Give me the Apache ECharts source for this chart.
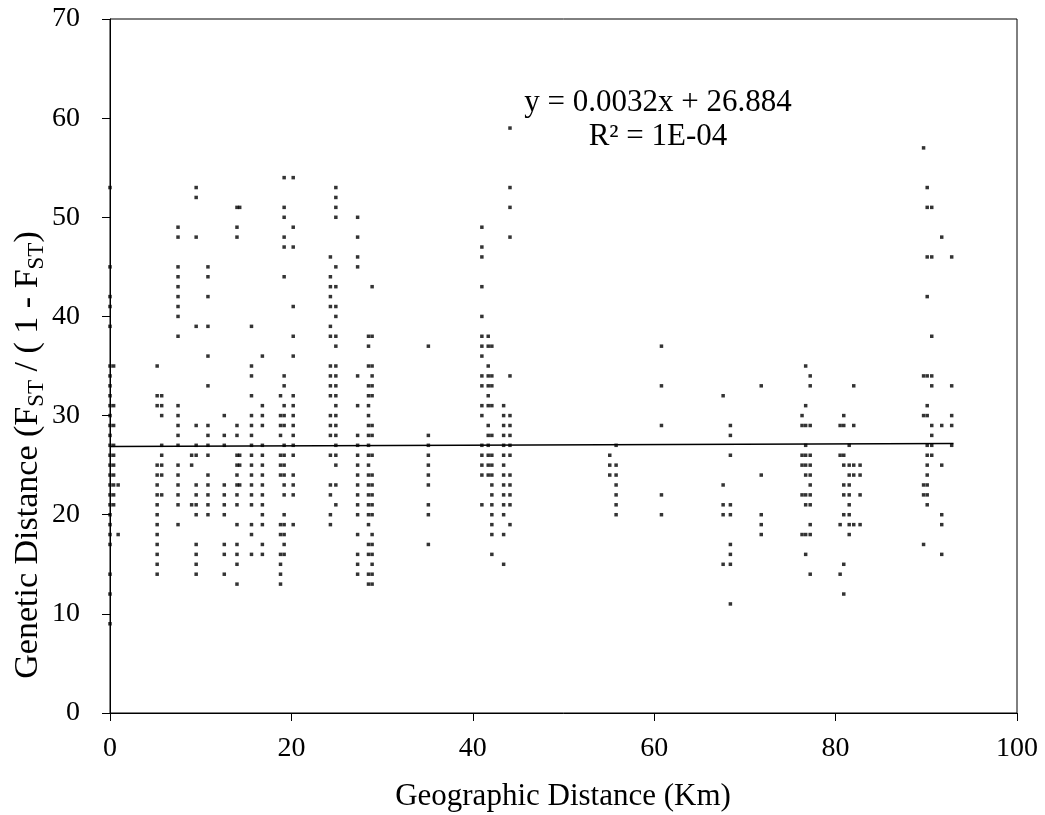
<!DOCTYPE html>
<html>
<head>
<meta charset="utf-8">
<script src="https://cdn.jsdelivr.net/npm/echarts@6/dist/echarts.min.js"></script>
<style>
html,body{margin:0;padding:0;background:#fff;}
#chart{width:1045px;height:815px;}
</style>
</head>
<body>
<div id="chart"></div>
<script>
// Column x positions (Km) and the genetic distances plotted at each
const colX = [0, 0.4, 0.9, 5.2, 5.7, 7.5, 9.0, 9.5, 10.8, 12.6, 14.0, 14.3, 15.6, 16.8, 18.8, 19.2, 20.2,
  24.3, 24.9, 27.3, 28.5, 28.9, 35.1, 41.0, 41.7, 42.1, 43.4, 44.1, 55.1, 55.8, 60.8, 67.6, 68.4, 71.8,
  76.3, 76.7, 77.2, 80.5, 80.9, 81.5, 82.0, 82.7, 89.7, 90.1, 90.6, 91.7, 92.8];
const colY = [
  [53,45,42,41,39,35,34,33,32,31,30,29,28,27,26,25,24,23,22,21,20,19,18,17,14,12,9],
  [35,31,29,27,26,25,24,23,22,21],
  [23,18],
  [35,32,31,25,24,23,22,21,20,19,18,17,16,15,14],
  [32,31,30,27,26,25,24,22],
  [49,48,45,44,43,42,41,40,38,31,30,29,28,27,25,24,23,22,21,19],
  [26,25,21],
  [53,52,48,39,29,27,26,23,22,21,20,17,16,15,14],
  [45,44,42,39,36,33,29,28,27,26,24,23,22,21,20],
  [30,28,27,23,22,21,20,17,16,14],
  [51,49,48,29,28,26,25,24,23,22,21,19,17,16,15,13],
  [51,26,25,23],
  [39,35,34,32,30,29,28,27,26,25,24,23,22,21,19,18,16],
  [36,31,30,29,27,26,25,24,23,22,21,20,19,17,16],
  [32,30,29,28,26,25,24,19,18,16,15,14,13],
  [54,51,50,48,47,44,34,33,31,30,29,27,26,25,24,23,22,20,19,18,17,16],
  [54,49,47,41,38,36,32,31,30,29,28,27,26,24,23,22,19],
  [46,44,43,42,41,39,38,35,34,33,32,30,29,28,26,23,22,20,19],
  [53,52,51,50,45,43,41,40,38,37,35,34,33,32,31,30,29,28,27,26,25,23,21],
  [50,48,46,45,34,31,28,27,26,25,24,23,22,21,20,18,16,15,14],
  [38,37,35,33,32,31,30,29,28,27,26,25,24,23,22,21,20,19,17,16,14,13],
  [43,38,35,34,33,32,29,28,26,24,23,22,21,20,18,17,16,15,14,13],
  [37,28,27,26,25,24,23,21,20,17],
  [49,47,46,43,40,38,37,36,34,33,31,30,27,26,25,24,21],
  [38,37,35,34,33,32,31,29,28,27,26,25,24],
  [37,34,33,31,28,26,25,24,23,22,21,20,19,18,16],
  [31,30,29,28,27,26,25,24,23,22,21,20,18,15],
  [59,53,51,48,34,30,29,28,27,26,24,23,22,21,19],
  [26,25,24],
  [27,25,24,23,22,21,20],
  [37,33,29,22,20],
  [32,23,21,20,15],
  [29,28,26,21,20,17,16,15,11],
  [33,24,20,19,18],
  [30,29,26,25,22,18],
  [35,31,29,27,26,25,24,22,21,18,16],
  [34,33,29,26,25,24,23,22,21,19,18,14],
  [29,26,19,14],
  [30,29,26,25,23,22,20,15,12],
  [27,25,24,23,22,21,20,19,18],
  [33,29,25,24,19],
  [25,24,22,19],
  [57,34,30,23,22,17],
  [53,51,46,42,34,31,30,27,26,25,24,23,22,21],
  [51,46,38,34,33,29,28,27,26],
  [48,29,25,20,19,16],
  [46,33,30,29,27]
];
// Linear trend
const trendSlope = 0.0032;
const trendIntercept = 26.884;
const trendXRange = [0, 93];
// Axis ranges [min, max, interval]
const xRange = [0, 100, 20];
const yRange = [0, 70, 10];

const points = [];
colX.forEach((x, i) => colY[i].forEach(y => points.push([x, y])));
const trendData = trendXRange.map(x => [x, trendSlope * x + trendIntercept]);

const FONT = '"Liberation Serif", "Times New Roman", serif';
const chart = echarts.init(document.getElementById('chart'), null, {renderer: 'canvas'});
chart.setOption({
  animation: false,
  backgroundColor: '#fff',
  grid: {left: 110, right: 28, top: 19, bottom: 102, show: true, borderColor: '#000', borderWidth: 1, backgroundColor: 'transparent'},
  xAxis: {
    type: 'value', min: xRange[0], max: xRange[1], interval: xRange[2],
    axisLine: {show: true, lineStyle: {color: '#000', width: 1}},
    axisTick: {show: true, inside: false, length: 8, lineStyle: {color: '#000'}},
    axisLabel: {color: '#000', fontFamily: FONT, fontSize: 28, margin: 22},
    splitLine: {show: false}
  },
  yAxis: {
    type: 'value', min: yRange[0], max: yRange[1], interval: yRange[2],
    axisLine: {show: true, lineStyle: {color: '#000', width: 1}},
    axisTick: {show: true, inside: false, length: 8, lineStyle: {color: '#000'}},
    axisLabel: {color: '#000', fontFamily: FONT, fontSize: 28, margin: 30},
    splitLine: {show: false}
  },
  series: [
    {
      type: 'scatter', data: points, symbol: 'rect', symbolSize: 3.5,
      itemStyle: {color: '#000'}, z: 2
    },
    {
      type: 'line', data: trendData, symbol: 'none', showSymbol: false,
      lineStyle: {color: '#000', width: 1.5}, z: 3
    }
  ],
  graphic: [
    {
      type: 'text', x: 563, y: 797,
      style: {text: 'Geographic Distance (Km)', fontFamily: FONT, fontSize: 31, fill: '#000', align: 'center', verticalAlign: 'middle'}
    },
    {
      type: 'text', x: 28, y: 455, rotation: Math.PI / 2,
      style: {
        text: 'Genetic Distance (F{s|ST} / ( 1 - F{s|ST})',
        fontFamily: FONT, fontSize: 34, fill: '#000', align: 'center', verticalAlign: 'middle', lineHeight: 40,
        rich: {s: {fontFamily: FONT, fontSize: 23, lineHeight: 23, verticalAlign: 'bottom', fill: '#000'}}
      }
    },
    {
      type: 'text', x: 658, y: 103,
      style: {text: 'y = 0.0032x + 26.884', fontFamily: FONT, fontSize: 31, fill: '#000', align: 'center', verticalAlign: 'middle'}
    },
    {
      type: 'text', x: 658, y: 137,
      style: {text: 'R² = 1E-04', fontFamily: FONT, fontSize: 31, fill: '#000', align: 'center', verticalAlign: 'middle'}
    }
  ]
});
</script>
</body>
</html>
